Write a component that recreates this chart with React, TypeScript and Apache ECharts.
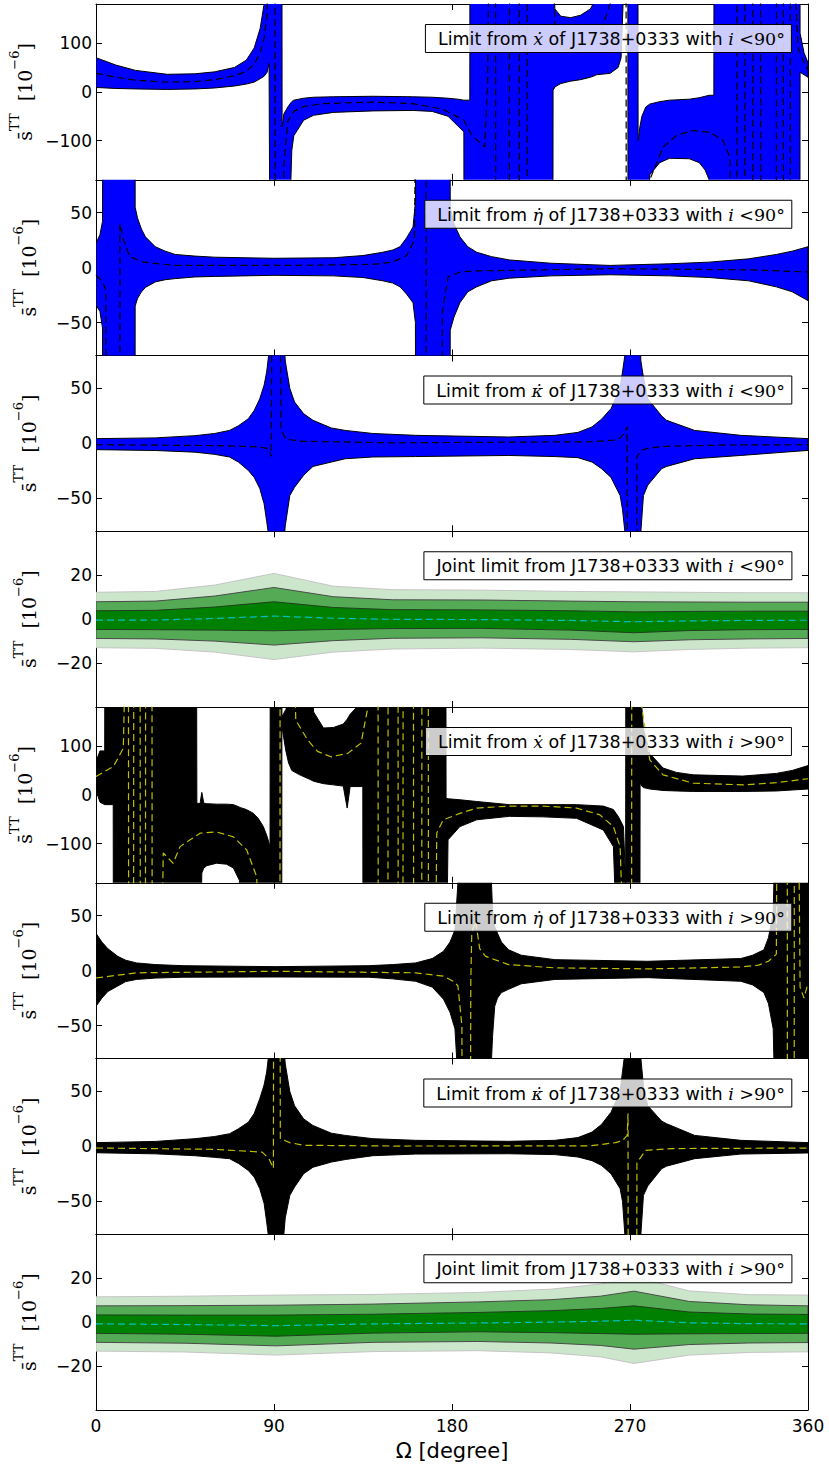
import React, { useEffect, useRef } from "react";
import * as echarts from "echarts";

// ---------- axis / label data ----------
const OMEGA_MIN = 0;
const OMEGA_MAX = 360;
const OMEGA_STEP = 90;
const Y_LIMITS = [180, 80, 80, 40, 180, 80, 80, 40];
const Y_TICKS = [
  [-100, 0, 100],
  [-50, 0, 50],
  [-50, 0, 50],
  [-20, 0, 20],
  [-100, 0, 100],
  [-50, 0, 50],
  [-50, 0, 50],
  [-20, 0, 20],
];
const Y_NAME = "{a|s\u0304}{b|TT}{a|  [10}{b|\u22126}{a|]}";
const X_NAME = "\u03A9 [degree]";
const LEGEND_TEXTS = [
  "{n|Limit from }{m|\u1E8B}{n| of J1738+0333 with }{m|i}{s| <90\u00B0}",
  "{n|Limit from }{m|\u03B7\u0307}{n| of J1738+0333 with }{m|i}{s| <90\u00B0}",
  "{n|Limit from }{m|\u03BA\u0307}{n| of J1738+0333 with }{m|i}{s| <90\u00B0}",
  "{n|Joint limit from J1738+0333 with }{m|i}{s| <90\u00B0}",
  "{n|Limit from }{m|\u1E8B}{n| of J1738+0333 with }{m|i}{s| >90\u00B0}",
  "{n|Limit from }{m|\u03B7\u0307}{n| of J1738+0333 with }{m|i}{s| >90\u00B0}",
  "{n|Limit from }{m|\u03BA\u0307}{n| of J1738+0333 with }{m|i}{s| >90\u00B0}",
  "{n|Joint limit from J1738+0333 with }{m|i}{s| >90\u00B0}",
];

// ---------- series data: [Omega, lower, upper] ----------
const XDOT_LT90_BAND = [
  [0, 9, 70], [10, 7, 55], [20, 6, 44], [36, 5, 36], [50, 6, 37], [60, 8, 41], [70, 12, 50], [76, 16, 65],
  [80, 20, 90], [83, 27, 130], [85, 32, 180], [86.5, 40, 400], [87.5, 58, 400], [88, -400, 400], [94, -400, 400],
  [94.1, -400, -72], [95, -400, -45], [97, -400, -31], [98, -250, -25], [99, -120, -20], [100, -90, -17],
  [105, -58, -13], [110, -48, -11], [120, -42, -10], [140, -39, -9], [160, -38, -10], [170, -40, -11],
  [178, -50, -13], [183, -70, -15], [186, -82, -17], [186.1, -400, -17], [189, -400, -17], [189.1, -400, 400],
  [231, -400, 400], [231.1, 3, 400], [232, 10, 170], [235, 17, 155], [240, 22, 152], [245, 25, 157],
  [250, 30, 170], [252, 33, 185], [253, 35, 400], [260, 38, 400], [264, 50, 400], [265.5, 70, 400],
  [266.5, 180, 400], [267, 300, 400], [268.9, 300, 400], [269, -400, 400], [274, -400, 400],
  [274.1, -400, -100], [275, -400, -72], [276, -400, -50], [278, -400, -31], [280, -170, -25],
  [285, -145, -20], [290, -136, -17], [300, -137, -15], [305, -145, -12], [308, -160, -9], [310, -180, -7],
  [311, -400, -7], [312.4, -400, -7], [312.5, -400, 400], [355.9, -400, 400], [356, 40, 120], [358, 35, 80],
  [360, 30, 60],
];
const XDOT_LT90_CENTER = [
  [0, 38], [10, 30], [20, 24], [36, 20], [50, 21], [60, 25], [70, 33], [76, 42], [80, 57], [83, 80], [85, 110],
  [86.5, 160], [87, 400], [90.5, 400], [90.6, -400], [94.5, -400], [95, -150], [97, -60], [100, -40], [105, -30],
  [115, -24], [140, -21], [160, -24], [175, -35], [186, -58], [190, -89], [196.5, -113], [198, 17], [199, 400],
  [202, 400], [202.1, -400], [209, -400], [209.1, 400], [214, 400], [214.1, -400], [218, -400], [218.1, 400],
  [231, 400], [232, 120], [236, 85], [245, 90], [255, 120], [260, 180], [261, 400], [268, 400], [268.1, -400],
  [279, -400], [280, -180], [286.8, -113], [293.6, -89], [302, -79], [310.4, -83], [317, -99], [320.5, -134],
  [321.5, -400], [324, -400], [324.1, 400], [328, 400], [328.1, -400], [332, -400], [332.1, 400], [336, 400],
  [336.1, -400], [344, -400], [344.1, 400], [347.5, 400], [347.6, -400], [351, -400], [351.1, 400], [355, 90],
  [358, 60], [360, 45],
];

const ETADOT_LT90_BAND = [
  [0, -34, 22], [2, -40, 30], [3.3, -55, 42], [3.5, -400, 400], [19.7, -400, 400], [19.8, -35, 55], [21, -28, 45],
  [23, -22, 35], [25, -18, 28], [30, -13, 19], [35, -11, 15], [40, -10, 12], [50, -8.5, 10.5], [60, -8, 9.5],
  [90, -7, 8.5], [120, -7.5, 9], [135, -9, 11], [145, -12, 14], [150, -14, 16], [153.7, -17.5, 19], [157, -24, 27],
  [160.3, -32, 37], [161.5, -50, 60], [162, -400, 400], [179, -400, 400], [179.1, -57, 55], [181, -45, 40],
  [184, -32, 28], [188, -22, 19], [192.5, -17.5, 14], [200, -12, 10], [209, -9.6, 7], [230, -7.5, 4],
  [260, -6.5, 2], [290, -7.5, 3.5], [310, -9, 5], [330, -12, 8], [344, -17.5, 12], [352, -22, 15],
  [356, -26, 17], [360, -30, 19],
];
const ETADOT_LT90_CENTER = [
  [0, -7], [3, -12], [5, -20], [5.4, -400], [12, -400], [12.1, 40], [14, 25], [17, 10], [24, 5], [40, 2],
  [100, 2], [140, 3], [150, 5], [157, 11], [161, 25], [163, 400], [166.9, 400], [167, -400], [175, -400],
  [175.1, -40], [178, -8.6], [184, -4], [192, -3], [260, -1], [330, -2], [360, -4],
];

const KAPPADOT_LT90_BAND = [
  [0, -5.7, 4.3], [30, -6.5, 5], [50, -8, 7], [60, -10, 9], [67.5, -12.4, 11.8], [72, -17, 16], [77, -24.6, 22.4],
  [80, -31, 30], [82.8, -41, 40.6], [85, -55, 53], [86.3, -71, 65], [87.4, -85, 82], [88.5, -300, 300],
  [91, -2000, 2000], [93.5, -300, 300], [94.5, -100, 110], [95.7, -75, 75], [98, -47.5, 50], [100.4, -40, 37.6],
  [105, -29, 27], [109.7, -21, 21], [119, -17, 14], [126, -14, 11.8], [140, -12.4, 9], [161.6, -12, 7.3],
  [208.6, -11, 5.8], [232, -12, 7.3], [243.7, -13, 10], [250.8, -17, 15], [255.6, -23, 22], [260.4, -31, 31.6],
  [265, -47.5, 50], [266.2, -60, 65], [267.4, -80, 80], [268.5, -150, 150], [271, -2000, 2000], [274, -150, 150],
  [275.5, -80, 75], [276.8, -47.5, 60], [279, -38, 40.6], [286, -23, 25], [288.5, -21, 21], [302.7, -14, 11.8],
  [326, -11, 7.3], [360, -6.4, 4.3],
];
const KAPPADOT_LT90_CENTER = [
  [0, -1.2], [60, -2], [80, -3], [85, -4], [87.4, -5], [88.6, -12], [89.5, 400], [92, 400], [93.6, 12], [96, 4],
  [103, 2], [150, 0.5], [250, 1.5], [262, 3], [265, 5], [267, 9], [268.5, 15], [269, -400], [273, -400],
  [273.5, -12], [276, -6], [280, -4], [290, -2.5], [320, -1.5], [360, -1.2],
];

// joint rows: [Omega, -3s, -2s, -1s, centre, +1s, +2s, +3s]
const JOINT_LT90 = [
  [0, -13, -8.8, -4.7, -0.5, 3.8, 7.9, 12.2],
  [30, -13.3, -9, -4.8, -0.4, 4.0, 8.2, 12.6],
  [60, -15, -10, -5, 0.3, 5.5, 10.5, 15.5],
  [90, -18.4, -11.8, -5.3, 1.4, 7.9, 14.4, 20.8],
  [120, -15, -9.8, -4.7, 0.4, 5.3, 10.2, 15],
  [150, -13.6, -8.7, -4.3, -0.1, 4.3, 8.8, 13.4],
  [195, -13.2, -8.5, -4.2, -0.2, 4.2, 8.7, 13.2],
  [240, -13.8, -9.2, -5, -0.6, 3.8, 8.2, 12.6],
  [272, -14.9, -10.3, -6.2, -1.2, 3.3, 7.9, 12.4],
  [300, -13.8, -9.4, -5.2, -0.8, 3.5, 7.8, 12.2],
  [330, -13.2, -9, -4.8, -0.6, 3.6, 7.7, 12],
  [360, -13, -8.8, -4.7, -0.5, 3.6, 7.7, 12],
];

const XDOT_GT90_BAND = [
  [0, 10, 68], [2, -15, 90], [4.4, -20, 90], [4.5, -20, 400], [8.7, -20, 400], [8.8, -400, 400], [50.8, -400, 400],
  [51, -400, -17], [52.6, -400, -18], [53.5, -160, 5], [54.5, -150, -17], [56, -145, -18], [61, -140, -19],
  [66, -142, -19], [69.5, -150, -20], [72.5, -175, -25], [73, -400, -26], [76, -400, -30], [79.5, -400, -37.6],
  [82, -400, -48], [84.6, -400, -65], [86.5, -400, -85], [88, -400, -106], [88.1, -400, 400], [93.9, -400, 400],
  [94, 140, 160], [96, 90, 175], [97.4, 65, 190], [99, 50, 400], [103, 41, 400], [108, 32, 400], [110, 28, 170],
  [115, 23, 137], [120, 20.5, 138], [125, 18, 145], [127, -27, 155], [128.5, 17, 165], [133, 17, 185],
  [134.9, 17, 400], [135, -400, 400], [176.9, -400, 400], [177, -400, -7], [178, -92, -8], [184, -65, -10],
  [192.5, -51, -13.6], [209, -44, -20], [226, -45, -20], [243, -48, -20], [256.5, -72, -23], [261.6, -106, -30],
  [264.2, -400, -45], [266.7, -400, -65], [267.8, -400, -180], [267.9, -400, 400], [275, -400, 400],
  [275.1, 24, 400], [276, 18, 180], [276.7, 15, 137], [280, 12, 85], [286.7, 9, 55], [293.5, 8, 46], [302, 7, 41],
  [327, 7, 38.5], [344, 8, 44], [352, 10, 50], [360, 12, 60],
];
const XDOT_GT90_CENTER = [
  [0, 37.5], [8.8, 58], [13.8, 95.6], [15.5, 400], [16.4, 400], [16.5, -400], [19, -400], [19.1, 400], [22.3, 400],
  [22.4, -400], [25, -400], [25.1, 400], [28.3, 400], [28.4, -400], [33, -400], [34, -119], [39, -140],
  [42.5, -106], [47.6, -92], [52.6, -78.5], [61, -76], [69.5, -86], [76.2, -113], [81.3, -168], [82, -400],
  [93, -400], [93.1, 400], [99.7, 400], [101, 153], [107, 112.6], [112, 89], [118.8, 78], [127.3, 85], [134, 106],
  [137.5, 180], [138, 400], [142.6, 400], [142.7, -400], [147.6, -400], [147.7, 400], [152.7, 400], [152.8, -400],
  [155.2, -400], [155.3, 400], [160.5, 400], [160.6, -400], [164.7, -400], [164.8, 400], [168, 400], [168.1, -400],
  [171.5, -400], [172.3, -78], [175.6, -51], [184, -38], [192.5, -27], [209, -23], [226, -23], [243, -27],
  [254.8, -41], [261.6, -65], [265, -106], [267.5, -400], [270.8, -400], [270.9, 400], [275, 400], [276, 180],
  [280, 71.7], [286.7, 41], [302, 24], [327, 20.5], [344, 25], [360, 33],
];

const ETADOT_GT90_BAND = [
  [0, -32.5, 34], [3, -25, 26], [6, -19, 20], [11, -14, 13], [15, -10, 9.5], [20.5, -8, 7], [30, -6.8, 5.5],
  [44, -6, 4.5], [91, -5.8, 3.6], [138, -6, 4.5], [150, -7.5, 5.5], [161.6, -9.7, 7], [170, -15, 11],
  [175.7, -26, 17.6], [179, -38, 26], [181.5, -53, 37], [183, -100, 80], [183.9, -400, 400], [199.4, -400, 400],
  [199.5, -100, 100], [200.5, -60, 55], [201.6, -32.5, 40], [203, -25, 34], [205, -20, 26], [208.6, -17, 19],
  [215, -12, 14], [232, -8, 10], [279, -6.4, 8.5], [326, -9.7, 11], [332, -13, 14], [337.7, -20, 19],
  [340, -30, 30], [342.4, -53, 52.5], [343, -100, 100], [343.7, -400, 400], [360, -400, 400],
];
const ETADOT_GT90_CENTER = [
  [0, -6.7], [20.5, -2], [91, -0.6], [161.6, -2], [175.7, -5], [181, -10], [183, -14], [185, -50], [185.5, -400],
  [189, -400], [189.5, -10], [190, 35], [192, 45], [194, 20], [197, 13], [201.6, 10], [208.6, 5.5], [232, 2.5],
  [279, 1.6], [326, 3.3], [335, 5], [340, 8.5], [344, 15], [345, 400], [349.5, 400], [349.6, -400], [353, -400],
  [353.1, 400], [354, 400], [356, -15], [358, -25], [360, -11],
];

const KAPPADOT_GT90_BAND = [
  [0, -5.8, 3.4], [30, -6.8, 4.5], [50, -8.5, 7], [60, -10, 9], [67.5, -11.2, 11.5], [72, -15.5, 16],
  [77, -21.9, 22], [80, -28, 30], [82.8, -38.5, 43.4], [85, -52, 56], [86.3, -68.9, 67.7], [87.4, -85, 85],
  [88.5, -300, 300], [91, -2000, 2000], [93.5, -300, 300], [94.5, -90, 100], [95.7, -65, 75], [98, -44.6, 50],
  [100.4, -37, 37], [105, -24.9, 25], [109.7, -19, 19], [119, -14.3, 12], [126, -12, 10], [140, -8.5, 7],
  [161.6, -7, 5.5], [208.6, -6.7, 4.6], [232, -7.5, 5.5], [243.7, -9.7, 8], [250.8, -13, 13], [255.6, -17.3, 20],
  [260.4, -25, 31], [265, -38.5, 50], [266.2, -50, 68], [267.4, -80, 85], [268.5, -150, 150], [271, -2000, 2000],
  [274, -150, 150], [275.5, -80, 80], [276.8, -44.6, 55], [279, -36, 37], [286, -20.3, 23], [288.5, -18, 20.6],
  [302.7, -11.2, 10], [326, -7, 5.5], [360, -6, 3.4],
];
const KAPPADOT_GT90_CENTER = [
  [0, -1.5], [60, -2.7], [84, -5.2], [87.4, -11], [89.7, -20], [90, 400], [92.8, 400], [93.2, 7], [98, 3.4],
  [105, 1], [150, 0.3], [250, 0.5], [262.7, 3.4], [266, 5], [268.6, 10], [269, 30], [269.2, -400], [273.2, -400],
  [273.5, -15], [277.9, -3.6], [290.8, -2], [360, -1.5],
];

const JOINT_GT90 = [
  [0, -13.2, -9.2, -5.1, -0.8, 3.3, 7.4, 11.5],
  [45, -13.6, -9.6, -5.5, -1.1, 3.2, 7.5, 11.8],
  [91, -15, -10.8, -6.4, -1.6, 3.2, 7.7, 12.3],
  [140, -13.4, -9.2, -5, -0.8, 3.6, 8.2, 12.6],
  [193, -13, -8.8, -4.4, -0.4, 4.4, 9.2, 13.5],
  [230, -14, -9.5, -4.8, 0, 5.2, 10.2, 15],
  [255, -15.8, -10.6, -5.2, 0.4, 6.2, 11.8, 17.3],
  [272, -18.8, -12.3, -5.5, 0.9, 7.4, 14.1, 20.6],
  [300, -15, -10.2, -5.3, -0.3, 4.6, 9.4, 14.2],
  [330, -13.8, -9.5, -5.2, -0.7, 3.7, 7.9, 12.5],
  [360, -13.5, -9.3, -5.1, -0.8, 3.5, 7.4, 12.3],
];

const PANELS: any[] = [
  { kind: "band", band: XDOT_LT90_BAND, center: XDOT_LT90_CENTER, fill: "#0000ff", dash: "#000000" },
  { kind: "band", band: ETADOT_LT90_BAND, center: ETADOT_LT90_CENTER, fill: "#0000ff", dash: "#000000" },
  { kind: "band", band: KAPPADOT_LT90_BAND, center: KAPPADOT_LT90_CENTER, fill: "#0000ff", dash: "#000000" },
  { kind: "joint", rows: JOINT_LT90 },
  { kind: "band", band: XDOT_GT90_BAND, center: XDOT_GT90_CENTER, fill: "#000000", dash: "#bfbf00" },
  { kind: "band", band: ETADOT_GT90_BAND, center: ETADOT_GT90_CENTER, fill: "#000000", dash: "#bfbf00" },
  { kind: "band", band: KAPPADOT_GT90_BAND, center: KAPPADOT_GT90_CENTER, fill: "#000000", dash: "#bfbf00" },
  { kind: "joint", rows: JOINT_GT90 },
];

// ---------- layout ----------
const W = 829;
const H = 1466;
const GRID_LEFT = 96;
const GRID_RIGHT = 21;
const TOP0 = 4;
const PANEL_H = 175.75;

function bandSeries(p: number, rows: number[][], loI: number, hiI: number, fill: string, stroke: string, z: number) {
  return {
    type: "custom",
    xAxisIndex: 2 * p,
    yAxisIndex: 2 * p,
    clip: true,
    silent: true,
    z,
    data: [[rows[0][0], 0]],
    renderItem: (params: any, api: any) => {
      const pts: number[][] = [];
      for (let i = 0; i < rows.length; i++) pts.push(api.coord([rows[i][0], rows[i][hiI]]));
      for (let i = rows.length - 1; i >= 0; i--) pts.push(api.coord([rows[i][0], rows[i][loI]]));
      return {
        type: "polygon",
        shape: { points: pts },
        style: { fill, stroke, lineWidth: 1, lineJoin: "round" },
      };
    },
  };
}

function centerSeries(p: number, data: number[][], color: string) {
  return {
    type: "line",
    xAxisIndex: 2 * p,
    yAxisIndex: 2 * p,
    data,
    symbol: "none",
    silent: true,
    clip: true,
    z: 4,
    lineStyle: { color, width: 1.2, type: [7, 4] },
  };
}

export default function App() {
  const ref = useRef<HTMLDivElement>(null);
  useEffect(() => {
    const chart = echarts.init(ref.current!, null, { renderer: "svg" });
    const grids: any[] = [];
    const xAxes: any[] = [];
    const yAxes: any[] = [];
    const series: any[] = [];
    const titles: any[] = [];
    const tickFont = { fontFamily: "DejaVu Sans", fontSize: 17, color: "#000" };
    PANELS.forEach((panel, p) => {
      const top = TOP0 + p * PANEL_H;
      grids.push({ left: GRID_LEFT, right: GRID_RIGHT, top, height: PANEL_H, containLabel: false });
      const isLast = p === PANELS.length - 1;
      ["bottom", "top"].forEach((pos) => {
        xAxes.push({
          type: "value",
          gridIndex: p,
          position: pos,
          min: OMEGA_MIN,
          max: OMEGA_MAX,
          interval: OMEGA_STEP,
          axisLine: { show: true, onZero: false, lineStyle: { color: "#000", width: 1 } },
          axisTick: { show: true, inside: true, length: 6, lineStyle: { color: "#000", width: 1 } },
          axisLabel: { show: isLast && pos === "bottom", margin: 7, ...tickFont },
          splitLine: { show: false },
          name: isLast && pos === "bottom" ? X_NAME : "",
          nameLocation: "middle",
          nameGap: 30,
          nameTextStyle: { fontFamily: "DejaVu Sans", fontSize: 21, color: "#000" },
        });
      });
      const M = Y_LIMITS[p];
      ["left", "right"].forEach((pos) => {
        yAxes.push({
          type: "value",
          gridIndex: p,
          position: pos,
          min: -M,
          max: M,
          axisLine: { show: true, onZero: false, lineStyle: { color: "#000", width: 1 } },
          axisTick: {
            show: true,
            inside: true,
            length: 6,
            customValues: Y_TICKS[p],
            lineStyle: { color: "#000", width: 1 },
          },
          axisLabel: {
            show: pos === "left",
            customValues: Y_TICKS[p],
            margin: 4,
            formatter: (v: number) => String(v).replace("-", "\u2212"),
            ...tickFont,
          },
          splitLine: { show: false },
          name: pos === "left" ? Y_NAME : "",
          nameLocation: "middle",
          nameRotate: 90,
          nameGap: 58,
          nameTextStyle: {
            color: "#000",
            rich: {
              a: { fontFamily: "DejaVu Serif", fontSize: 19, color: "#000", lineHeight: 26, verticalAlign: "bottom" },
              b: { fontFamily: "DejaVu Serif", fontSize: 13, color: "#000", lineHeight: 26, verticalAlign: "top" },
            },
          },
        });
      });
      if (panel.kind === "band") {
        series.push(bandSeries(p, panel.band, 1, 2, panel.fill, "#000000", 2));
        series.push(centerSeries(p, panel.center, panel.dash));
      } else {
        const rows = panel.rows as number[][];
        series.push(bandSeries(p, rows, 1, 7, "#cce6cc", "#c4c4c4", 1));
        series.push(bandSeries(p, rows, 2, 6, "#55ab55", "#4a4a4a", 2));
        series.push(bandSeries(p, rows, 3, 5, "#008000", "#1f3f1f", 3));
        series.push(centerSeries(p, rows.map((r) => [r[0], r[4]]), "#00bfbf"));
      }
      titles.push({
        text: LEGEND_TEXTS[p],
        right: W - 792,
        top: top + 20,
        z: 10,
        backgroundColor: "rgba(255,255,255,0.8)",
        borderColor: "#000",
        borderWidth: 1,
        padding: [6, 7, 5, 13],
        textStyle: {
          fontWeight: "normal",
          rich: {
            n: { fontFamily: "DejaVu Sans", fontSize: 17.5, fontWeight: "normal", color: "#000" },
            m: { fontFamily: "DejaVu Serif", fontStyle: "italic", fontWeight: "normal", fontSize: 17.5, color: "#000" },
            s: { fontFamily: "DejaVu Serif", fontSize: 17.5, fontWeight: "normal", color: "#000" },
          },
        },
      });
    });
    chart.setOption({
      animation: false,
      backgroundColor: "#ffffff",
      title: titles,
      grid: grids,
      xAxis: xAxes,
      yAxis: yAxes,
      series,
    });
    return () => chart.dispose();
  }, []);
  return <div ref={ref} style={{ position: "absolute", left: 0, top: 0, width: W, height: H }} />;
}
